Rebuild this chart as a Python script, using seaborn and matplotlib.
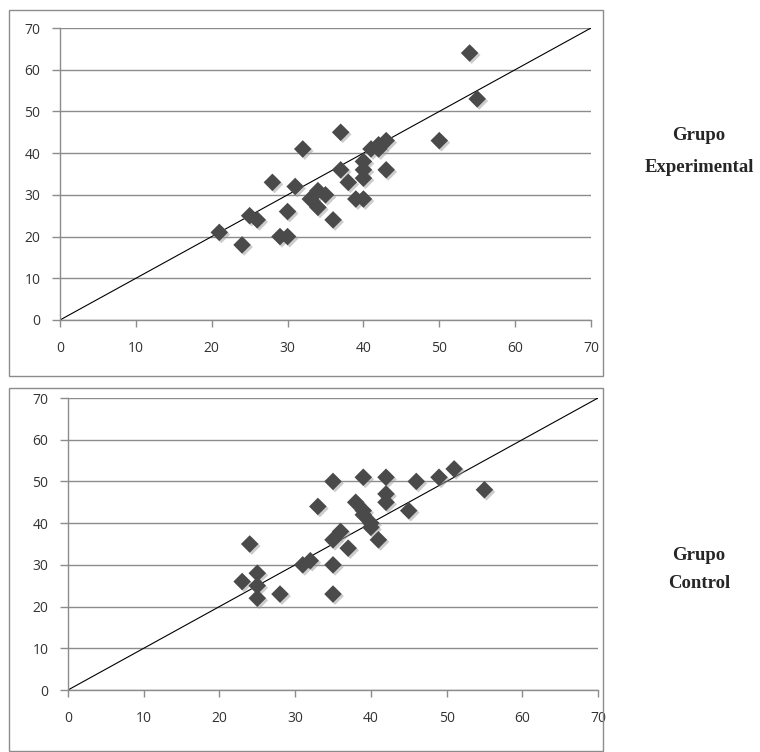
import matplotlib
matplotlib.use("Agg")
import matplotlib.pyplot as plt
import matplotlib.patheffects as pe
from matplotlib.patches import Rectangle
import seaborn as sns
import pandas as pd

# Grupo Experimental (pre vs post scores)
exp_x = [54, 55, 50, 37, 32, 41, 42, 43, 42, 40, 40, 40, 43, 37, 38, 28, 31, 34,
         35, 33, 34, 39, 40, 30, 36, 25, 26, 21, 24, 29, 30]
exp_y = [64, 53, 43, 45, 41, 41, 42, 43, 41, 38, 36, 34, 36, 36, 33, 33, 32, 31,
         30, 29, 27, 29, 29, 26, 24, 25, 24, 21, 18, 20, 20]

# Grupo Control
ctl_x = [51, 49, 39, 42, 35, 46, 55, 42, 42, 38, 33, 45, 39, 39, 40, 40, 41, 36,
         35, 37, 35, 35, 24, 25, 23, 25, 25, 28, 31, 32]
ctl_y = [53, 51, 51, 51, 50, 50, 48, 47, 45, 45, 44, 43, 43, 42, 40, 39, 36, 38,
         36, 34, 30, 23, 35, 28, 26, 25, 22, 23, 30, 31]

diag = [0, 70]
ticks = [0, 10, 20, 30, 40, 50, 60, 70]
labels = [["Grupo", "Experimental"], ["Grupo", "Control"]]

sns.set_style("white")
plt.rcParams['font.family'] = ['Open Sans', 'DejaVu Sans']

W, H = 760, 752
fig = plt.figure(figsize=(W / 100, H / 100), dpi=100)
fig.patch.set_facecolor("white")


def px_axes(x0, y0, x1, y1):
    # pixel box (top-left origin) -> figure fraction
    return fig.add_axes([x0 / W, 1 - y1 / H, (x1 - x0) / W, (y1 - y0) / H])


# outer chart frames
for (bx0, by0, bx1, by1) in [(9, 10, 603, 376), (9, 388, 603, 751)]:
    fig.patches.append(Rectangle((bx0 / W, 1 - by1 / H), (bx1 - bx0) / W, (by1 - by0) / H,
                                 transform=fig.transFigure, fill=False,
                                 edgecolor="#8c8c8c", linewidth=1.0))

boxes = [(60, 28, 591, 320), (68, 398, 598, 690)]
data = [(exp_x, exp_y), (ctl_x, ctl_y)]
label_y = [(136, 167), (555, 583)]

for i, (box, (xs, ys)) in enumerate(zip(boxes, data)):
    ax = px_axes(*box)
    df = pd.DataFrame({"pre": xs, "post": ys})
    ax.plot(diag, diag, color="black", linewidth=0.8, zorder=2)
    sns.scatterplot(data=df, x="pre", y="post", ax=ax, marker="D", s=80,
                    color="#4a4a4a", edgecolor="none", zorder=3)
    for coll in ax.collections:
        coll.set_path_effects([pe.SimplePatchShadow(offset=(1.5, -1.5), shadow_rgbFace="#9a9a9a",
                                                    alpha=0.5), pe.Normal()])
    ax.set_xlim(0, 70)
    ax.set_ylim(0, 70)
    ax.set_xticks(ticks)
    ax.set_yticks(ticks)
    ax.set_xlabel("")
    ax.set_ylabel("")
    ax.grid(axis="y", color="#8c8c8c", linewidth=1.0)
    ax.grid(axis="x", visible=False)
    ax.set_axisbelow(True)
    for side in ["top", "right"]:
        ax.spines[side].set_visible(False)
    for side in ["left", "bottom"]:
        ax.spines[side].set_color("#8c8c8c")
        ax.spines[side].set_linewidth(1.0)
    ax.tick_params(axis="x", direction="out", length=5, width=1, color="#8c8c8c",
                   labelsize=10, labelcolor="#333333", pad=10)
    ax.tick_params(axis="y", direction="out", length=6, width=1, color="#8c8c8c",
                   labelsize=10, labelcolor="#333333", pad=8)
    ax.tick_params(bottom=True, left=True)

    for txt, yy in zip(labels[i], label_y[i]):
        fig.text(699 / W, 1 - yy / H, txt, ha="center", va="center",
                 fontsize=13.5, fontweight="bold", family=["Liberation Serif", "DejaVu Serif"])

fig.savefig("out.png", dpi=100, facecolor="white")
